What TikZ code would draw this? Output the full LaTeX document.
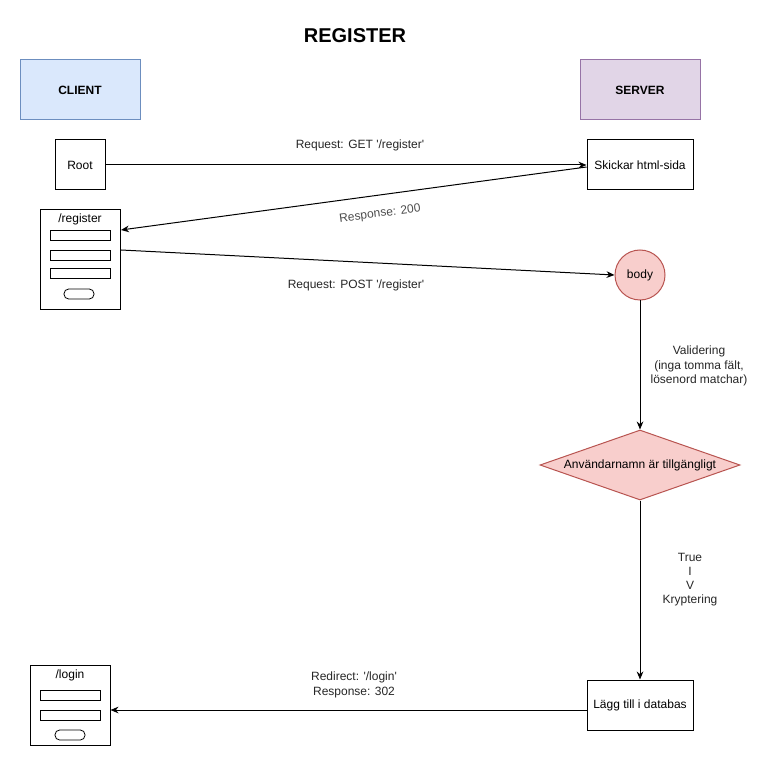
\documentclass[tikz,border=0pt]{standalone}
\usepackage{fontspec}
\setmainfont{Liberation Sans}[Ligatures=TeXOff]
\usepackage{xcolor}
\usetikzlibrary{positioning,calc,shapes.geometric,arrows.meta}

\definecolor{clientfill}{HTML}{DAE8FC}
\definecolor{clientline}{HTML}{6C8EBF}
\definecolor{serverfill}{HTML}{E1D5E7}
\definecolor{serverline}{HTML}{9673A6}
\definecolor{redfill}{HTML}{F8CECC}
\definecolor{redline}{HTML}{B85450}

\tikzset{
	box/.style={draw, line width=0.75pt, inner sep=0pt, align=center},
	lbl/.style={align=center, text=black!85},
	flow/.style={-{Stealth[length=6pt,width=5pt]}, line width=0.75pt},
	field/.style={draw, line width=0.6pt}
}

\begin{document}
\begin{tikzpicture}[x=0.75pt,y=-0.75pt,font=\fontsize{9}{11}\selectfont]
	\useasboundingbox (0,0) rectangle (781,766);
	
	\node[font=\bfseries\fontsize{15}{18}\selectfont] (title) at (355,36) {REGISTER};
	
	\node[box, fill=clientfill, draw=clientline, minimum width=90pt, minimum height=45pt, font=\bfseries\fontsize{9}{11}\selectfont] (client) at (80,90) {CLIENT};
	\node[box, fill=serverfill, draw=serverline, minimum width=90pt, minimum height=45pt, font=\bfseries\fontsize{9}{11}\selectfont] (server) at (640,90) {SERVER};
	
	\node[box, minimum width=37.5pt, minimum height=37.5pt] (root) at (80,165) {Root};
	\node[box, minimum width=79.5pt, minimum height=37.5pt] (skickar) at (640,165) {Skickar html-sida};
	
	% register form
	\node[box, minimum width=60pt, minimum height=75pt] (regform) at (80,260) {};
	\node (regtitle) at (80,219) {/register};
	\foreach \y in {230,250,268} { \draw[field] (50,\y) rectangle (110,\y+10); }
	\draw[field, rounded corners=3.5pt] (64,289) rectangle (94,299);
	
	\coordinate (regin) at (121,230);
	\coordinate (regout) at (121,250);
	
	\node[circle, draw=redline, fill=redfill, line width=0.75pt, minimum size=37.5pt, inner sep=0pt] (body) at (640,275) {body};
	\node[diamond, draw=redline, fill=redfill, line width=0.75pt, minimum width=150pt, minimum height=52.5pt, aspect=2.857, inner sep=0pt] (dia) at (640,465) {Användarnamn är tillgängligt};
	\node[box, minimum width=79.5pt, minimum height=37.5pt] (lagg) at (640,705) {Lägg till i databas};
	
	% login form
	\node[box, minimum width=60pt, minimum height=60pt] (loginform) at (70,705) {};
	\node (logintitle) at (70,675) {/login};
	\foreach \y in {690,710} { \draw[field] (40,\y) rectangle (100,\y+10); }
	\draw[field, rounded corners=3.5pt] (55,730) rectangle (85,740);
	
	\draw[flow] (root.east) -- (skickar.west);
	\draw[flow] ($(skickar.west)+(0,2)$) -- (regin);
	\draw[flow] (regout) -- (body.west);
	\draw[flow] (body.south) -- (dia.north);
	\draw[flow] (dia.south) -- (lagg.north);
	\draw[flow] ($(lagg.west)+(0,5)$) -- ($(loginform.east)+(0,5)$);
	
	\node[lbl] (getlbl) at (360,145) {Request: GET '/register'};
	\node[lbl, rotate=7.5, text=black!70] (resplbl) at (380,214) {Response: 200};
	\node[lbl] (postlbl) at (356,285) {Request: POST '/register'};
	\node[lbl] (vallbl) at (699,366) {Validering\\(inga tomma fält,\\lösenord matchar)};
	\node[lbl, font=\fontsize{9}{10.5}\selectfont] (truelbl) at (690,580) {True\\I\\V\\Kryptering};
	\node[lbl] (redirlbl) at (354,685) {Redirect: '/login'\\Response: 302};
\end{tikzpicture}
\end{document}
